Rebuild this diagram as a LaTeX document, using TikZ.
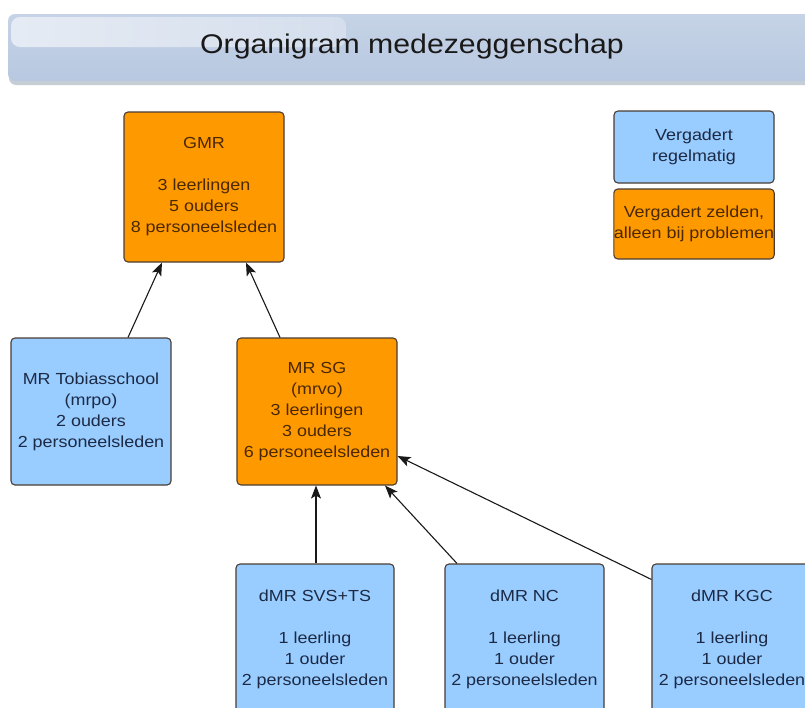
\documentclass[tikz,border=0pt]{standalone}
\usepackage{fontspec}
\setmainfont{Liberation Sans}[FakeStretch=1.12]
\usetikzlibrary{arrows.meta}
\definecolor{orangebox}{HTML}{FF9900}
\definecolor{bluebox}{HTML}{99CCFF}
\definecolor{boxline}{HTML}{4A3D35}
\definecolor{orangetext}{HTML}{4A2800}
\definecolor{bluetext}{HTML}{1C2A45}
\definecolor{barmain}{HTML}{B7C8E0}
\definecolor{bartop}{HTML}{C6D3E6}
\definecolor{barshadow}{HTML}{9AA4B0}
\tikzset{
  unitbox/.style={draw=boxline, line width=1.1pt, rounded corners=4pt, align=center,
    font=\fontsize{16}{21}\selectfont, inner sep=0pt},
  orgbox/.style={unitbox, fill=orangebox, text=orangetext},
  blubox/.style={unitbox, fill=bluebox, text=bluetext},
  arr/.style={draw=black!90, line width=1.1pt, -{Stealth[length=13pt,width=10pt,inset=3pt]}}
}
\begin{document}
\begin{tikzpicture}[x=1pt,y=-1pt]
\useasboundingbox (0,0) rectangle (805,707);
\clip (0,0) rectangle (805,707);
\fill[white] (0,0) rectangle (805,707);
% title bar
\fill[barshadow!55] (9,18) [rounded corners=7pt] rectangle (830,85);
\shade[top color=bartop, bottom color=barmain, rounded corners=7pt] (8,14) rectangle (830,81);
\shade[left color=white!55!bartop, right color=white!25!bartop, rounded corners=9pt] (11,17) rectangle (346,47);
\node[font=\fontsize{27}{32}\selectfont, text=black!90] (title) at (412,47) {Organigram medezeggenschap};
% boxes
\node[orgbox, minimum width=160pt, minimum height=150pt] (gmr) at (204,187)
  {GMR\\[21pt]3 leerlingen\\5 ouders\\8 personeelsleden};
\node[blubox, minimum width=160pt, minimum height=72pt] (leg1) at (694,147)
  {Vergadert\\regelmatig};
\node[orgbox, minimum width=160pt, minimum height=70pt] (leg2) at (694,224)
  {Vergadert zelden,\\alleen bij problemen};
\node[blubox, minimum width=160pt, minimum height=147pt] (tob) at (91,411.5)
  {MR Tobiasschool\\(mrpo)\\2 ouders\\2 personeelsleden};
\node[orgbox, minimum width=160pt, minimum height=147pt] (sg) at (317,411.5)
  {MR SG\\(mrvo)\\3 leerlingen\\3 ouders\\6 personeelsleden};
\node[blubox, minimum width=158pt, minimum height=150pt] (svs) at (315,639)
  {dMR SVS+TS\\[21pt]1 leerling\\1 ouder\\2 personeelsleden};
\node[blubox, minimum width=159pt, minimum height=150pt] (nc) at (524.5,639)
  {dMR NC\\[21pt]1 leerling\\1 ouder\\2 personeelsleden};
\node[blubox, minimum width=160pt, minimum height=150pt] (kgc) at (732,639)
  {dMR KGC\\[21pt]1 leerling\\1 ouder\\2 personeelsleden};
% connectors
\draw[arr] ([xshift=37pt]tob.north) -- ([xshift=-42pt]gmr.south);
\draw[arr] ([xshift=-37pt]sg.north) -- ([xshift=42pt]gmr.south);
\draw[arr] ([xshift=1pt]svs.north) -- ([xshift=-1pt]sg.south);
\draw[arr] ([xshift=-67.5pt]nc.north) -- ([xshift=68pt]sg.south);
\draw[arr] ([yshift=-16pt]kgc.north west) -- ([yshift=-44.5pt]sg.east);
\end{tikzpicture}
\end{document}
